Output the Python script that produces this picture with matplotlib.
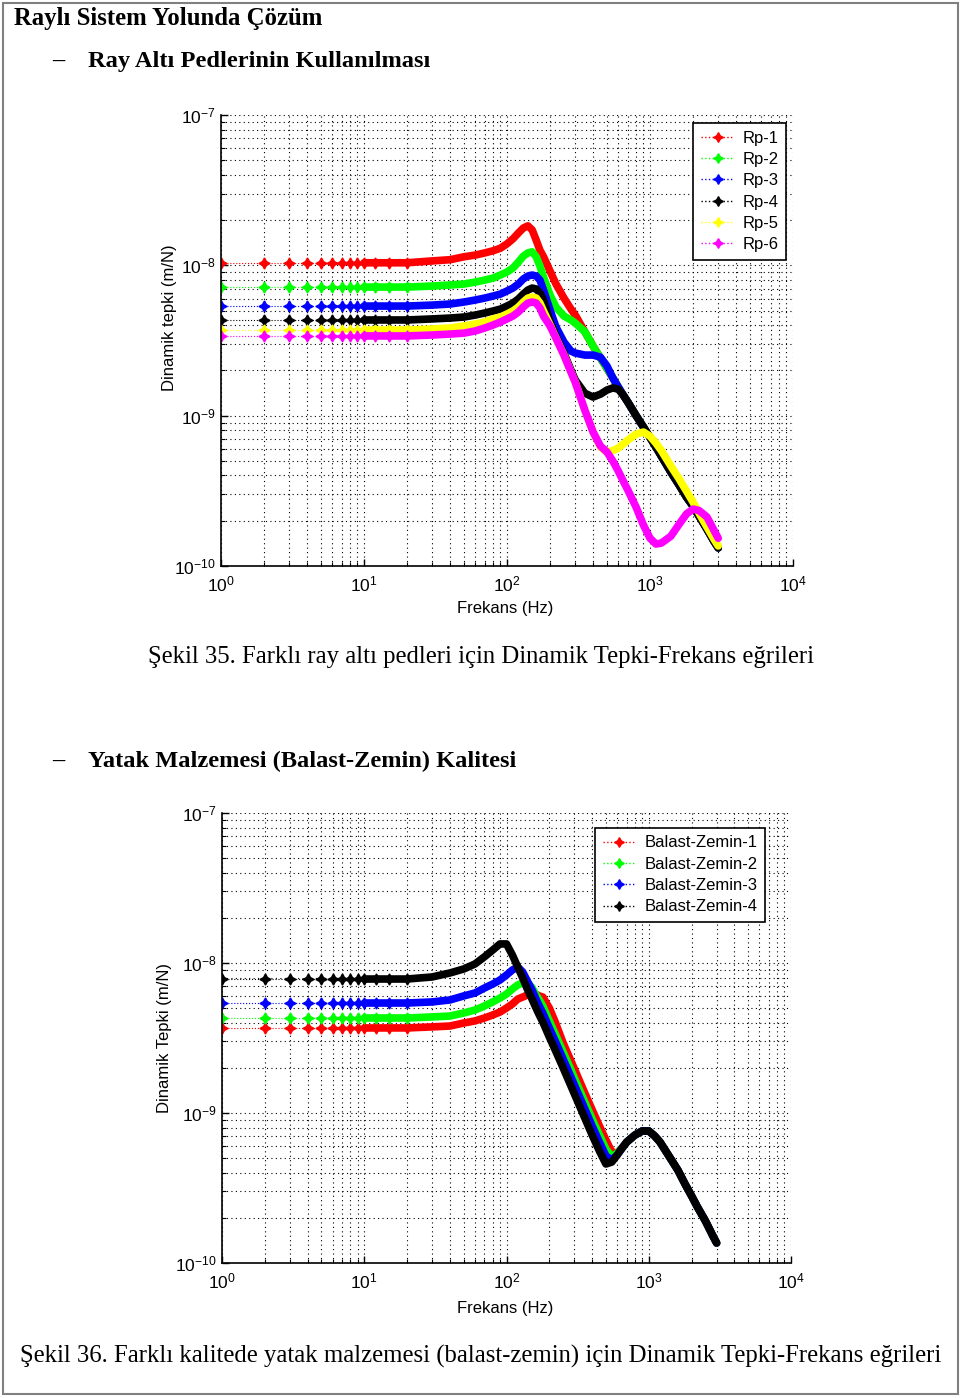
import numpy as np
import matplotlib
matplotlib.use("Agg")
import matplotlib.pyplot as plt
from matplotlib.lines import Line2D
from matplotlib.patches import Rectangle
from matplotlib.ticker import LogLocator, NullFormatter

plt.rcParams['font.family'] = ['Liberation Sans', 'DejaVu Sans']
plt.rcParams['mathtext.default'] = 'regular'

# frekans noktalari (Hz), iki grafik icin ortak
freq = [1, 2, 3, 4, 5, 6, 7, 8, 9, 10, 12, 15, 20, 30, 40, 50, 60, 70, 80, 90,
        100, 110, 120, 130, 140, 150, 160, 170, 180, 200, 220, 250, 280, 300,
        350, 400, 450, 500, 550, 600, 650, 700, 800, 900, 1000, 1100, 1200,
        1400, 1600, 1800, 2000, 2200, 2500, 2800, 3000]

# yuksek frekansta ortak asimptot (650 Hz ve sonrasi)
tail_top = [1.37e-9, 1.23e-9, 1.00e-9, 8.40e-10, 7.15e-10, 6.18e-10, 5.38e-10,
            4.21e-10, 3.45e-10, 2.87e-10, 2.50e-10, 2.15e-10, 1.76e-10,
            1.46e-10, 1.32e-10]

# Sekil 35 - ray alti pedleri (m/N)
rp1 = [1.04e-8] * 13 + [1.07e-8, 1.09e-8, 1.14e-8, 1.17e-8, 1.21e-8, 1.25e-8,
       1.30e-8, 1.39e-8, 1.50e-8, 1.64e-8, 1.77e-8, 1.83e-8, 1.72e-8, 1.47e-8,
       1.26e-8, 1.14e-8, 9.16e-9, 7.51e-9, 6.06e-9, 5.12e-9, 4.67e-9, 3.62e-9,
       2.90e-9, 2.42e-9, 2.06e-9, 1.78e-9, 1.55e-9] + tail_top
rp2 = [7.17e-9] * 13 + [7.28e-9, 7.40e-9, 7.51e-9, 7.74e-9, 7.98e-9, 8.23e-9,
       8.62e-9, 9.03e-9, 9.59e-9, 1.05e-8, 1.15e-8, 1.21e-8, 1.23e-8, 1.14e-8,
       9.89e-9, 8.36e-9, 6.35e-9, 5.28e-9, 4.60e-9, 4.33e-9, 4.13e-9, 3.62e-9,
       2.90e-9, 2.42e-9, 2.06e-9, 1.78e-9, 1.55e-9] + tail_top
rp3 = [5.36e-9] * 13 + [5.44e-9, 5.53e-9, 5.70e-9, 5.88e-9, 6.06e-9, 6.25e-9,
       6.44e-9, 6.75e-9, 7.06e-9, 7.51e-9, 8.11e-9, 8.49e-9, 8.62e-9, 8.49e-9,
       7.98e-9, 6.85e-9, 5.04e-9, 3.89e-9, 3.09e-9, 2.69e-9, 2.61e-9, 2.53e-9,
       2.53e-9, 2.45e-9, 2.14e-9, 1.78e-9, 1.55e-9] + tail_top
rp4 = [4.33e-9] * 13 + [4.40e-9, 4.46e-9, 4.53e-9, 4.67e-9, 4.82e-9, 4.97e-9,
       5.12e-9, 5.36e-9, 5.61e-9, 5.97e-9, 6.44e-9, 6.85e-9, 7.06e-9, 6.96e-9,
       6.54e-9, 5.88e-9, 4.20e-9, 3.39e-9, 2.61e-9, 2.01e-9, 1.73e-9, 1.41e-9,
       1.33e-9, 1.39e-9, 1.48e-9, 1.53e-9, 1.50e-9] + tail_top
rp5 = [3.71e-9] * 13 + [3.77e-9, 3.83e-9, 3.95e-9, 4.07e-9, 4.20e-9, 4.40e-9,
       4.53e-9, 4.74e-9, 4.97e-9, 5.28e-9, 5.70e-9, 6.06e-9, 6.15e-9, 6.06e-9,
       5.61e-9, 4.97e-9, 4.01e-9, 3.28e-9, 2.53e-9, 1.95e-9, 1.67e-9, 1.09e-9,
       7.78e-10, 6.18e-10, 5.73e-10, 5.86e-10, 6.09e-10, 6.47e-10, 6.88e-10,
       7.54e-10, 7.78e-10, 7.31e-10, 6.57e-10, 5.86e-10, 4.62e-10, 3.79e-10,
       3.15e-10, 2.66e-10, 2.25e-10, 1.82e-10, 1.51e-10, 1.36e-10]
rp6 = [3.39e-9] * 13 + [3.44e-9, 3.49e-9, 3.54e-9, 3.66e-9, 3.83e-9, 4.01e-9,
       4.20e-9, 4.40e-9, 4.60e-9, 4.89e-9, 5.28e-9, 5.61e-9, 5.70e-9, 5.61e-9,
       5.20e-9, 4.60e-9, 3.95e-9, 3.28e-9, 2.53e-9, 1.95e-9, 1.67e-9, 1.09e-9,
       7.78e-10, 6.28e-10, 5.73e-10, 4.99e-10, 4.28e-10, 3.67e-10, 3.20e-10,
       2.46e-10, 1.87e-10, 1.53e-10, 1.40e-10, 1.42e-10, 1.58e-10, 1.90e-10,
       2.22e-10, 2.39e-10, 2.34e-10, 2.12e-10, 1.73e-10, 1.53e-10]

# yuksek frekansta ortak egri (Sekil 36, 650 Hz ve sonrasi)
tail_bot = [5.84e-10, 6.40e-10, 7.13e-10, 7.59e-10, 7.59e-10, 7.03e-10,
            6.40e-10, 5.09e-10, 4.17e-10, 3.36e-10, 2.80e-10, 2.36e-10,
            1.91e-10, 1.54e-10, 1.36e-10]

# Sekil 36 - balast-zemin kalitesi (m/N)
bz1 = [3.69e-9] * 13 + [3.75e-9, 3.80e-9, 3.98e-9, 4.11e-9, 4.30e-9, 4.50e-9,
       4.71e-9, 5.01e-9, 5.33e-9, 5.75e-9, 5.93e-9, 6.12e-9, 6.12e-9, 6.21e-9,
       6.03e-9, 5.93e-9, 5.01e-9, 4.04e-9, 2.93e-9, 2.29e-9, 1.97e-9, 1.40e-9,
       1.05e-9, 8.19e-10, 6.61e-10, 5.50e-10, 5.41e-10] + tail_bot
bz2 = [4.30e-9] * 13 + [4.37e-9, 4.43e-9, 4.64e-9, 4.86e-9, 5.17e-9, 5.50e-9,
       5.84e-9, 6.21e-9, 6.71e-9, 7.14e-9, 7.36e-9, 7.36e-9, 6.92e-9, 6.21e-9,
       5.67e-9, 5.17e-9, 4.11e-9, 3.36e-9, 2.55e-9, 2.00e-9, 1.71e-9, 1.22e-9,
       9.12e-10, 7.13e-10, 5.75e-10, 5.09e-10, 5.41e-10] + tail_bot
bz3 = [5.41e-9] * 13 + [5.50e-9, 5.67e-9, 6.03e-9, 6.31e-9, 6.81e-9, 7.24e-9,
       7.70e-9, 8.32e-9, 8.98e-9, 9.40e-9, 8.71e-9, 7.59e-9, 6.71e-9, 5.84e-9,
       5.17e-9, 4.64e-9, 3.69e-9, 3.02e-9, 2.29e-9, 1.79e-9, 1.54e-9, 1.10e-9,
       8.19e-10, 6.40e-10, 5.17e-10, 4.86e-10, 5.25e-10] + tail_bot
bz4 = [7.82e-9] * 13 + [8.07e-9, 8.58e-9, 9.12e-9, 9.85e-9, 1.10e-8, 1.22e-8,
       1.34e-8, 1.34e-8, 1.13e-8, 9.40e-9, 7.94e-9, 6.71e-9, 5.84e-9, 5.09e-9,
       4.50e-9, 4.04e-9, 3.21e-9, 2.63e-9, 2.00e-9, 1.56e-9, 1.34e-9, 9.55e-10,
       7.13e-10, 5.58e-10, 4.57e-10, 4.71e-10, 5.25e-10] + tail_bot

rp_labels = ['Rp-1', 'Rp-2', 'Rp-3', 'Rp-4', 'Rp-5', 'Rp-6']
rp_colors = ['#ff0000', '#00ff00', '#0000ff', '#000000', '#ffff00', '#ff00ff']
bz_labels = ['Balast-Zemin-1', 'Balast-Zemin-2', 'Balast-Zemin-3', 'Balast-Zemin-4']
bz_colors = ['#ff0000', '#00ff00', '#0000ff', '#000000']

W, H = 960, 1398
fig = plt.figure(figsize=(W / 100, H / 100), dpi=100)

f = np.array(freq, dtype=float)
low = f <= 20
band = f >= 10
mk = (4, 1, 0)


def draw(rect, series, colors, labels, ylabel, lab_xy, leg_anchor):
    ax = fig.add_axes(rect)
    ax.set_xscale('log')
    ax.set_yscale('log')
    for vals, c in zip(series, colors):
        v = np.array(vals)
        ax.plot(f[low], v[low], ls=':', lw=0.8, color=c, marker=mk, ms=8,
                mec=c, mfc=c)
        ax.plot(f[band], v[band], '-', lw=5.5, color=c,
                solid_joinstyle='round', solid_capstyle='round')
    ax.set_xlim(1, 1e4)
    ax.set_ylim(1e-10, 1e-7)
    ax.xaxis.set_major_locator(LogLocator(base=10, numticks=10))
    ax.yaxis.set_major_locator(LogLocator(base=10, numticks=10))
    ax.xaxis.set_minor_locator(LogLocator(base=10, subs=np.arange(2, 10), numticks=20))
    ax.yaxis.set_minor_locator(LogLocator(base=10, subs=np.arange(2, 10), numticks=20))
    ax.xaxis.set_minor_formatter(NullFormatter())
    ax.yaxis.set_minor_formatter(NullFormatter())
    ax.grid(True, which='both', color='k', lw=0.8, linestyle=(0, (1, 3)))
    ax.tick_params(which='both', direction='in', labelsize=12.5, color='k')
    ax.tick_params(which='major', length=5, width=1)
    ax.tick_params(which='minor', length=3, width=0.8)
    ax.tick_params(axis='x', pad=6)
    ax.tick_params(axis='y', pad=4)
    for s in ['top', 'right']:
        ax.spines[s].set_visible(False)
    for s in ['left', 'bottom']:
        ax.spines[s].set_linewidth(1.2)
    ax.set_xlabel('Frekans (Hz)', fontsize=12)
    ax.set_ylabel(ylabel, fontsize=12)
    ax.xaxis.set_label_coords(0.497, lab_xy[1])
    ax.yaxis.set_label_coords(lab_xy[0], lab_xy[2])
    handles = [Line2D([], [], ls=':', lw=1, color=c, marker=mk, ms=7)
               for c in colors]
    leg = ax.legend(handles, labels, loc='upper right', bbox_to_anchor=leg_anchor,
                    borderaxespad=0, fontsize=12, fancybox=False, framealpha=1,
                    edgecolor='k', handlelength=2.0, handletextpad=0.5,
                    labelspacing=0.38, borderpad=0.45)
    leg.get_frame().set_linewidth(1.2)
    return ax


draw([221 / W, 1 - 566 / H, 572 / W, 451 / H],
     [rp1, rp2, rp3, rp4, rp5, rp6], rp_colors, rp_labels,
     'Dinamik tepki (m/N)', (-0.077, -0.078, 0.55), (0.988, 0.982))
draw([222 / W, 1 - 1263 / H, 569 / W, 450 / H],
     [bz1, bz2, bz3, bz4], bz_colors, bz_labels,
     'Dinamik Tepki (m/N)', (-0.087, -0.085, 0.5), (0.954, 0.967))

serif = ['Liberation Serif', 'DejaVu Serif']


def ptxt(x, y, s, **kw):
    fig.text(x / W, 1 - y / H, s, family=serif, va='center', ha='left', **kw)


ptxt(14, 19, 'Raylı Sistem Yolunda Çözüm', fontsize=17.8, weight='bold')
ptxt(52, 61, '–', fontsize=17.5, weight='bold')
ptxt(88, 61, 'Ray Altı Pedlerinin Kullanılması', fontsize=17.6, weight='bold')
ptxt(148, 657, 'Şekil 35. Farklı ray altı pedleri için Dinamik Tepki-Frekans eğrileri',
     fontsize=17.8)
ptxt(52, 761, '–', fontsize=17.5, weight='bold')
ptxt(88, 761, 'Yatak Malzemesi (Balast-Zemin) Kalitesi', fontsize=17.6, weight='bold')
ptxt(20, 1356, 'Şekil 36. Farklı kalitede yatak malzemesi (balast-zemin) için '
     'Dinamik Tepki-Frekans eğrileri', fontsize=17.8)

fig.patches.append(Rectangle((2.5 / W, 4 / H), 955 / W, 1391 / H,
                             transform=fig.transFigure, fill=False,
                             edgecolor='#808080', lw=1.5))

fig.savefig('out.png', dpi=100)
